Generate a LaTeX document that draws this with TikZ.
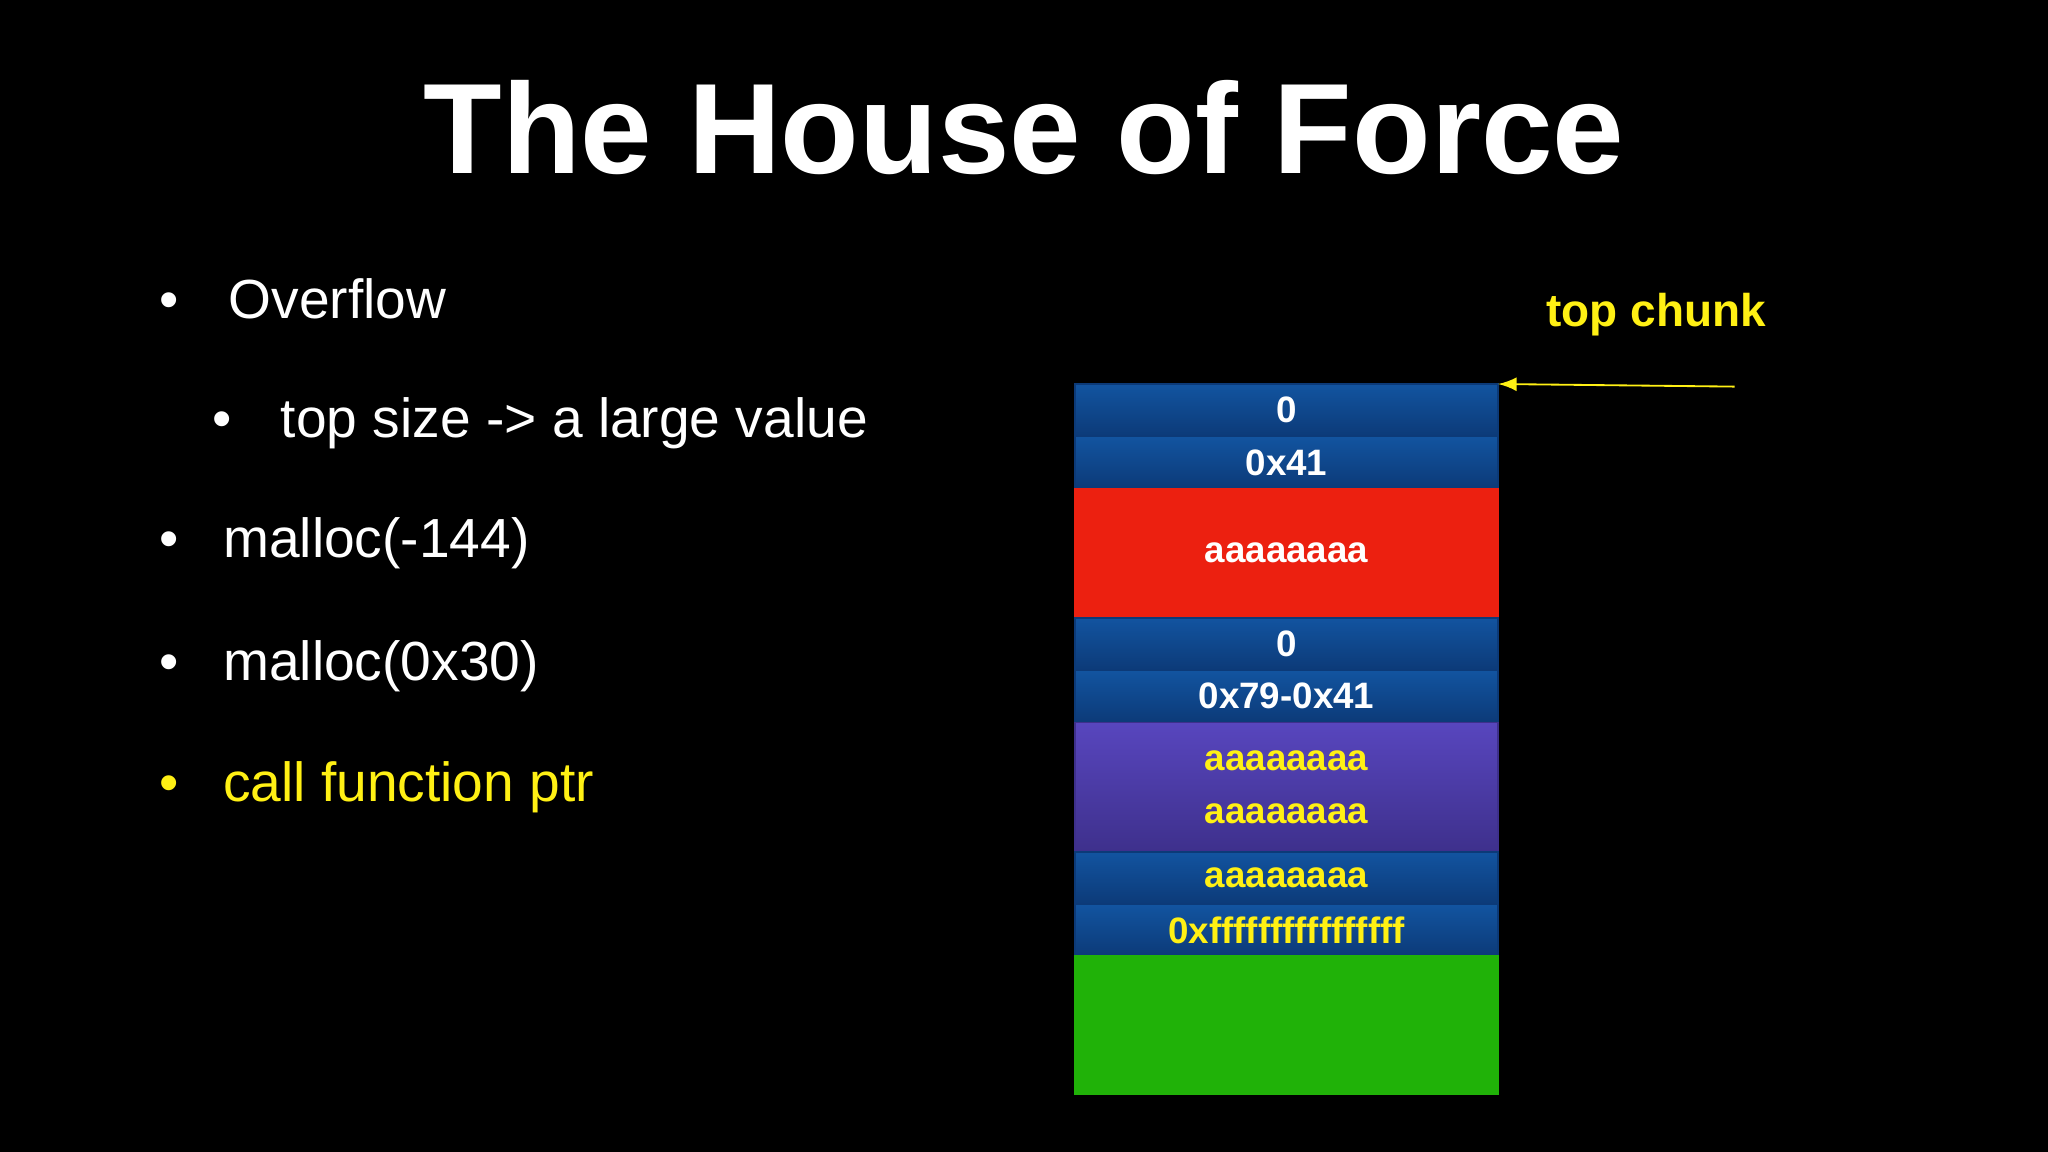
\documentclass[tikz,border=0pt]{standalone}
\usepackage{fontspec}
\setmainfont{Liberation Sans}
\usetikzlibrary{positioning}
\definecolor{hblue}{RGB}{18,84,160}
\definecolor{hbluedark}{RGB}{12,58,120}
\definecolor{hred}{RGB}{236,32,16}
\definecolor{hpurple}{RGB}{88,70,190}
\definecolor{hpurpledark}{RGB}{62,48,140}
\definecolor{hgreen}{RGB}{32,178,8}
\definecolor{hyellow}{RGB}{255,240,20}
\begin{document}
\begin{tikzpicture}[x=0.01cm,y=-0.01cm]

\tikzset{cell/.style = {minimum width=3.24cm, minimum height=0.4cm, inner sep=0pt, outer sep=0pt,
  top color=hblue, bottom color=hbluedark, draw=hbluedark, font=\fontsize{8}{9}\selectfont\bfseries, text=white}}
\tikzset{bigcell/.style = {cell, minimum height=0.99cm}}
\tikzset{item/.style = {anchor=west, text=white, font=\fontsize{12}{14}\selectfont}}
\fill[black] (0,0) rectangle (1568,882);
\useasboundingbox (0,0) rectangle (1568,882);
%title
\node[text=white, font=\fontsize{28}{32}\selectfont\bfseries] (title) at (784,98) {The House of Force};
%bullets
\node[item] (b1) at (110,229) {•\hspace{0.9em}Overflow};
\node[item] (b2) at (150,324) {•\hspace{0.9em}top size -> a large value};
\node[item] (b3) at (110,416) {•\hspace{0.8em}malloc(-144)};
\node[item] (b4) at (110,510) {•\hspace{0.8em}malloc(0x30)};
\node[item, text=hyellow] (b5) at (110,603) {•\hspace{0.8em}call function ptr};
%stack
\node[cell, anchor=north] (c1) at (985,294) {0};
\node[cell, below=0 of c1] (c2) {0x41};
\node[bigcell, below=0 of c2, top color=hred, bottom color=hred, draw=hred] (c3) {aaaaaaaa};
\node[cell, below=0 of c3] (c4) {0};
\node[cell, below=0 of c4] (c5) {0x79-0x41};
\node[bigcell, below=0 of c5, top color=hpurple, bottom color=hpurpledark, draw=hpurpledark,
  text=hyellow, align=center, font=\fontsize{8}{11.5}\selectfont\bfseries] (c6) {aaaaaaaa\\aaaaaaaa};
\node[cell, below=0 of c6, text=hyellow] (c7) {aaaaaaaa};
\node[cell, below=0 of c7, text=hyellow] (c8) {0xffffffffffffffff};
\node[bigcell, below=0 of c8, minimum height=1.05cm, fill=hgreen, top color=hgreen, bottom color=hgreen, draw=hgreen] (c9) {};
%top chunk
\node[text=hyellow, font=\fontsize{10}{12}\selectfont\bfseries] (top) at (1268,241) {top chunk};
\coordinate (arrstart) at (1328,296);
\draw[->, >=latex, hyellow, thin] (arrstart) -- (c1.north east);

\end{tikzpicture}
\end{document}
